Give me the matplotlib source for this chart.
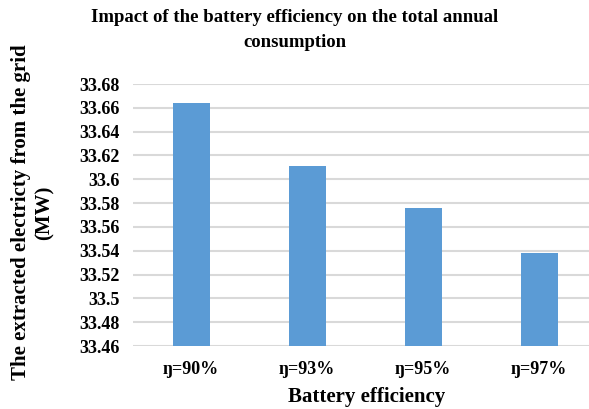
import matplotlib
matplotlib.use("Agg")
import matplotlib.pyplot as plt

categories = ["ŋ=90%", "ŋ=93%", "ŋ=95%", "ŋ=97%"]
values = [33.664, 33.611, 33.576, 33.538]
yticks = [33.46, 33.48, 33.50, 33.52, 33.54, 33.56, 33.58, 33.60, 33.62, 33.64, 33.66, 33.68]
ytick_labels = ["33.46", "33.48", "33.5", "33.52", "33.54", "33.56", "33.58", "33.6", "33.62", "33.64", "33.66", "33.68"]

plt.rcParams['font.family'] = ['Liberation Serif', 'DejaVu Serif']
plt.rcParams['font.weight'] = 'bold'

fig = plt.figure(figsize=(5.89, 4.09), dpi=100)
ax = fig.add_axes([0.226, 0.154, 0.774, 0.6406])

x = list(range(len(categories)))
ax.bar(x, values, width=0.32, color="#5b9bd5", zorder=3)
ax.set_ylim(33.46, 33.68)
ax.set_xlim(-0.5, 3.43)
ax.set_yticks(yticks)
ax.set_yticklabels(ytick_labels, fontsize=13, fontweight='bold')
ax.set_xticks(x)
ax.set_xticklabels(categories, fontsize=13, fontweight='bold')
ax.tick_params(length=0)
ax.tick_params(axis='y', pad=10)
ax.tick_params(axis='x', pad=11)
ax.grid(axis='y', color="#d9d9d9", linewidth=1.5, zorder=0)
for s in ax.spines.values():
    s.set_visible(False)

fig.text(0.5, 0.978, "Impact of the battery efficiency on the total annual\nconsumption",
         ha='center', va='top', fontsize=13.5, fontweight='bold', linespacing=1.6)
fig.text(0.055, 0.48, "The extracted electricty from the grid\n(MW)", rotation=90,
         ha='center', va='center', fontsize=15, fontweight='bold', linespacing=1.25)
fig.text(0.622, 0.03, "Battery efficiency", ha='center', va='center', fontsize=15, fontweight='bold')

fig.savefig("out.png", dpi=100)
